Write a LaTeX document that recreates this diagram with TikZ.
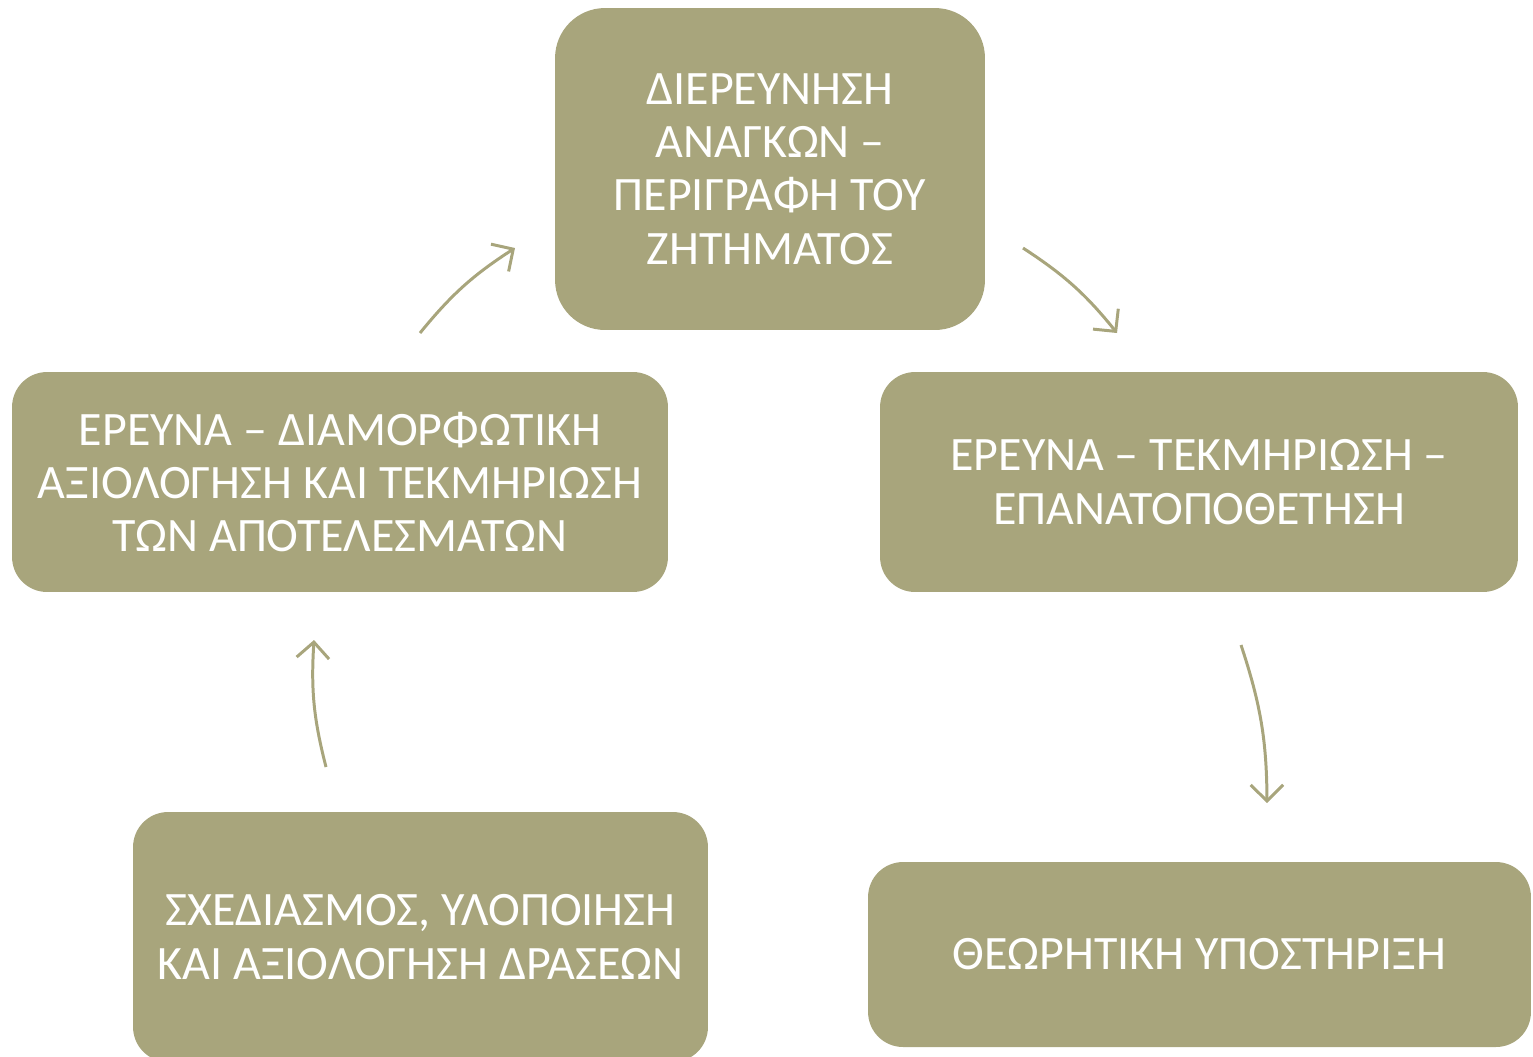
\documentclass[tikz,border=0pt]{standalone}
\usepackage{fontspec}
\setmainfont{Carlito}
\usetikzlibrary{arrows.meta}
\definecolor{olive}{HTML}{A8A57C}
\tikzset{
  box/.style={fill=olive, text=white, align=center, rounded corners=0.7cm, font=\fontsize{27.3}{30.4}\selectfont},
  flow/.style={draw=olive, line width=1.7pt, -{Straight Barb[length=3.2mm,width=6.5mm]}}
}
\begin{document}
\begin{tikzpicture}[x=0.02cm,y=-0.02cm]
\useasboundingbox (0,0) rectangle (1533,1056);
\clip (0,0) rectangle (1533,1056);
\node[box, rounded corners=1cm, minimum width=8.6cm, minimum height=6.44cm] (need) at (770,169) {ΔΙΕΡΕΥΝΗΣΗ\\ΑΝΑΓΚΩΝ –\\ΠΕΡΙΓΡΑΦΗ ΤΟΥ\\ΖΗΤΗΜΑΤΟΣ};
\node[box, minimum width=12.76cm, minimum height=4.4cm] (research) at (1199,482) {ΕΡΕΥΝΑ – ΤΕΚΜΗΡΙΩΣΗ –\\ΕΠΑΝΑΤΟΠΟΘΕΤΗΣΗ};
\node[box, minimum width=13.26cm, minimum height=3.7cm] (theory) at (1199.5,954.5) {ΘΕΩΡΗΤΙΚΗ ΥΠΟΣΤΗΡΙΞΗ};
\node[box, minimum width=11.5cm, minimum height=5cm] (design) at (420.5,937) {ΣΧΕΔΙΑΣΜΟΣ, ΥΛΟΠΟΙΗΣΗ\\ΚΑΙ ΑΞΙΟΛΟΓΗΣΗ ΔΡΑΣΕΩΝ};
\node[box, minimum width=13.12cm, minimum height=4.4cm] (assess) at (340,482) {ΕΡΕΥΝΑ – ΔΙΑΜΟΡΦΩΤΙΚΗ\\ΑΞΙΟΛΟΓΗΣΗ ΚΑΙ ΤΕΚΜΗΡΙΩΣΗ\\ΤΩΝ ΑΠΟΤΕΛΕΣΜΑΤΩΝ};
% arrow ends
\coordinate (a1) at (420,333);
\coordinate (a2) at (515,248);
\coordinate (b1) at (1023,248);
\coordinate (b2) at (1117,333);
\coordinate (c1) at (1241,645);
\coordinate (c2) at (1267,803);
\coordinate (d1) at (326,767);
\coordinate (d2) at (314,640);
\draw[flow] (a1) to[bend left=9] (a2);
\draw[flow] (b1) to[bend left=9] (b2);
\draw[flow] (c1) to[bend left=9] (c2);
\draw[flow] (d1) to[bend left=9] (d2);
\end{tikzpicture}
\end{document}
